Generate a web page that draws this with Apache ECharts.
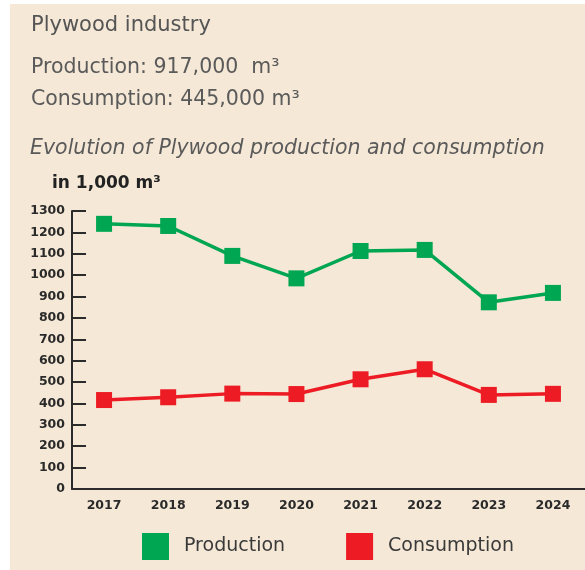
<!DOCTYPE html>
<html>
<head>
<meta charset="utf-8">
<script src="https://cdn.jsdelivr.net/npm/echarts@6/dist/echarts.min.js"></script>
<style>
html,body{margin:0;padding:0;background:#ffffff;}
#chart{width:585px;height:570px;}
</style>
</head>
<body>
<div id="chart"></div>
<script>
var years = ['2017','2018','2019','2020','2021','2022','2023','2024'];
var production = [1240, 1230, 1090, 985, 1113, 1118, 873, 917];
var consumption = [416, 429, 446, 444, 513, 560, 440, 445];
var yTicks = {min: 0, max: 1300, interval: 100};
var seriesNames = ['Production', 'Consumption'];
var headerLines = ['Plywood industry', 'Production: 917,000  m³', 'Consumption: 445,000 m³'];
var subtitle = 'Evolution of Plywood production and consumption';
var unitLabel = 'in 1,000 m³';

var FONT = '"DejaVu Sans", sans-serif';
var chart = echarts.init(document.getElementById('chart'), null, {renderer: 'canvas'});
chart.setOption({
  animation: false,
  backgroundColor: '#ffffff',
  graphic: [
    {type: 'rect', z: -10, shape: {x: 10, y: 4, width: 575, height: 566}, style: {fill: '#f5e8d6'}},
    {type: 'text', left: 31, top: 15, style: {text: headerLines[0], font: '21px ' + FONT, fill: '#555555'}},
    {type: 'text', left: 31, top: 57, style: {text: headerLines[1], font: '20.5px ' + FONT, fill: '#5a5a5a'}},
    {type: 'text', left: 31, top: 89, style: {text: headerLines[2], font: '20.5px ' + FONT, fill: '#5a5a5a'}},
    {type: 'text', left: 30, top: 139, style: {text: subtitle, font: 'italic 20.5px ' + FONT, fill: '#5a5a5a'}},
    {type: 'text', left: 52, top: 175, style: {text: unitLabel, font: 'bold 17px ' + FONT, fill: '#222222'}}
  ],
  grid: {left: 72, right: 0, top: 211, bottom: 81, containLabel: false},
  legend: {
    left: 142, top: 533,
    padding: 0,
    icon: 'rect',
    itemWidth: 27, itemHeight: 27,
    itemGap: 61,
    data: seriesNames,
    textStyle: {fontFamily: FONT, fontSize: 19, color: '#3a3a3a', padding: [0, 0, 0, 10]}
  },
  xAxis: {
    type: 'category',
    data: years,
    boundaryGap: true,
    axisLine: {lineStyle: {color: '#2b2b2b', width: 2}},
    axisTick: {inside: true, length: 8, alignWithLabel: true, lineStyle: {color: '#2b2b2b', width: 2}},
    axisLabel: {fontFamily: FONT, fontWeight: 'bold', fontSize: 12.5, color: '#2a2a2a', margin: 10}
  },
  yAxis: {
    type: 'value',
    min: yTicks.min, max: yTicks.max, interval: yTicks.interval,
    splitLine: {show: false},
    axisLine: {show: true, lineStyle: {color: '#2b2b2b', width: 2}},
    axisTick: {show: true, inside: true, length: 14, lineStyle: {color: '#2b2b2b', width: 2}},
    axisLabel: {fontFamily: FONT, fontWeight: 'bold', fontSize: 12.5, color: '#2a2a2a', margin: 7,
      formatter: function (v) { return String(v); }}
  },
  series: [
    {
      name: seriesNames[0], type: 'line', data: production,
      symbol: 'rect', symbolSize: 16,
      lineStyle: {color: '#00a651', width: 3.5},
      itemStyle: {color: '#00a651'}
    },
    {
      name: seriesNames[1], type: 'line', data: consumption,
      symbol: 'rect', symbolSize: 16,
      lineStyle: {color: '#ed1c24', width: 3.5},
      itemStyle: {color: '#ed1c24'}
    }
  ]
});
</script>
</body>
</html>
